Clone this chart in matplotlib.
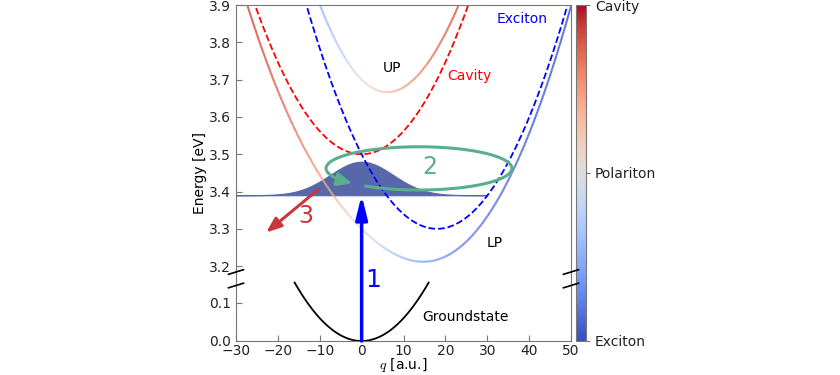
import numpy as np
import matplotlib
matplotlib.use("Agg")
import matplotlib.pyplot as plt
from matplotlib.collections import LineCollection
from matplotlib.colors import Normalize

plt.rcParams['mathtext.fontset'] = 'cm'
plt.rcParams['font.size'] = 10

# dispersion parameters
q_range = (-30, 50)
curv = 0.000617          # eV / a.u.^2, same for both bare modes
cav_q0, cav_E0 = 0.0, 3.5
exc_q0, exc_E0 = 18.0, 3.3
g = 0.2                  # coupling
gs_curv = 0.0006
gs_range = (-16, 16)

# wavepacket on the LP
wp_center, wp_width, wp_base, wp_height = 0.0, 7.5, 3.39, 0.09
wp_range = (-30, 30)

# loop "2": centre, half-axes, start/end angle (deg)
loop_c = (13.7, 3.462)
loop_ab = (22.2, 0.058)
loop_ang = (234, 584)

# arrow "3"
arr3_start = (-10.4, 3.405)
arr3_end = (-22.8, 3.29)

spine_col = '#777777'
green = '#5aae8c'
wp_col = '#5668aa'

q = np.linspace(q_range[0], q_range[1], 600)
E_cav = cav_E0 + curv * (q - cav_q0) ** 2
E_exc = exc_E0 + curv * (q - exc_q0) ** 2
delta = E_cav - E_exc
root = np.sqrt(delta ** 2 + 4 * g ** 2) / 2
E_up = (E_cav + E_exc) / 2 + root
E_lp = (E_cav + E_exc) / 2 - root
cav_up = 0.5 * (1 + delta / (2 * root))
cav_lp = 1 - cav_up

fig = plt.figure(figsize=(8.4, 3.75), dpi=100)
L, R = 236 / 840, 571 / 840
y_top, y_mid, y_bot = 1 - 5 / 375, 1 - 279 / 375, 1 - 341 / 375
ax = fig.add_axes([L, y_mid, R - L, y_top - y_mid])
axb = fig.add_axes([L, y_bot, R - L, y_mid - y_bot])
cax = fig.add_axes([576 / 840, y_bot, 10 / 840, y_top - y_bot])
ax.patch.set_visible(False)
axb.patch.set_visible(False)

norm = Normalize(0, 1)
cmap = plt.get_cmap('coolwarm')


def colored_line(axis, x, y, c):
    pts = np.column_stack([x, y]).reshape(-1, 1, 2)
    segs = np.concatenate([pts[:-1], pts[1:]], axis=1)
    lc = LineCollection(segs, cmap=cmap, norm=norm, linewidth=1.5, alpha=0.85)
    lc.set_array((c[:-1] + c[1:]) / 2)
    axis.add_collection(lc)
    return lc


# wavepacket
qw = np.linspace(wp_range[0], wp_range[1], 400)
wp = wp_base + wp_height * np.exp(-(qw - wp_center) ** 2 / (2 * wp_width ** 2))
ax.fill_between(qw, wp_base, wp, color=wp_col, lw=0.8, zorder=1)

ax.plot(q, E_cav, '--', color='red', lw=1.3, zorder=2)
ax.plot(q, E_exc, '--', color='blue', lw=1.3, zorder=2)
colored_line(ax, q, E_up, cav_up)
colored_line(ax, q, E_lp, cav_lp)

# loop 2
t = np.radians(np.linspace(loop_ang[0], loop_ang[1], 300))
lx = loop_c[0] + loop_ab[0] * np.cos(t)
ly = loop_c[1] + loop_ab[1] * np.sin(t)
ax.plot(lx[:-6], ly[:-6], color=green, lw=2.2, zorder=4, solid_capstyle='butt')
ax.annotate('', xy=(lx[-1], ly[-1]), xytext=(lx[-8], ly[-8]),
            arrowprops=dict(arrowstyle='-|>,head_length=0.9,head_width=0.4',
                            color=green, lw=2.2, shrinkA=0, shrinkB=0), zorder=4)
ax.text(16.3, 3.466, '2', color=green, fontsize=17, ha='center', va='center')

# arrow 3
ax.annotate('', xy=arr3_end, xytext=arr3_start,
            arrowprops=dict(arrowstyle='-|>,head_length=0.9,head_width=0.35',
                            color='#c8373a', lw=2.2, shrinkA=0, shrinkB=0), zorder=4)
ax.text(-13.3, 3.334, '3', color='#c8373a', fontsize=17, ha='center', va='center')

ax.text(7.2, 3.731, 'UP', ha='center', va='center')
ax.text(20.4, 3.71, 'Cavity', color='red', ha='left', va='center')
ax.text(32.3, 3.862, 'Exciton', color='blue', ha='left', va='center')
ax.text(31.8, 3.262, 'LP', ha='center', va='center')

# ground state
qg = np.linspace(gs_range[0], gs_range[1], 200)
axb.plot(qg, gs_curv * qg ** 2, color='black', lw=1.3)
axb.text(24.7, 0.063, 'Groundstate', ha='center', va='center')

# arrow 1 across both panels
an = axb.annotate('', xy=(0, wp_base), xycoords=ax.transData, xytext=(0, 0),
                  textcoords='data', annotation_clip=False,
                  arrowprops=dict(arrowstyle='-|>,head_length=1.4,head_width=0.35',
                                  color='blue', lw=2.5, shrinkA=0, shrinkB=0),
                  zorder=5)
an.arrow_patch.set_clip_on(False)
axb.text(2.7, 0.161, '1', color='blue', fontsize=18, ha='center', va='center',
         clip_on=False, zorder=6)

ax.set_xlim(*q_range)
ax.set_ylim(3.1655, 3.9)
axb.set_xlim(*q_range)
axb.set_ylim(0, 0.163)
ax.set_yticks([3.2, 3.3, 3.4, 3.5, 3.6, 3.7, 3.8, 3.9])
axb.set_yticks([0.0, 0.1])
axb.set_xticks(range(-30, 51, 10))
ax.set_xticks([])
ax.spines['bottom'].set_visible(False)
axb.spines['top'].set_visible(False)
for a in (ax, axb):
    for s in a.spines.values():
        s.set_color(spine_col)
    a.tick_params(direction='in', color=spine_col, length=4, labelcolor='#222222')
axb.tick_params(axis='x', pad=2)
axb.set_xlabel('$q$ [a.u.]', labelpad=-1)
fig.text(0.238, (y_top + y_bot) / 2, 'Energy [eV]', rotation=90, ha='center',
         va='center')

# break marks
for xm in (L, R):
    for dy in (7, -6.5):
        yc = y_mid + dy / 375
        fig.add_artist(plt.Line2D([xm - 7.5 / 840, xm + 7.5 / 840],
                                  [yc - 2.3 / 375, yc + 2.3 / 375],
                                  color='black', lw=1.2))

cb = fig.colorbar(plt.cm.ScalarMappable(norm=norm, cmap=cmap), cax=cax)
cb.set_ticks([0, 0.5, 1])
cb.set_ticklabels(['Exciton', 'Polariton', 'Cavity'])
cb.outline.set_edgecolor(spine_col)
cax.tick_params(color=spine_col, length=3, labelcolor='#222222')

fig.savefig('out.png', dpi=100)
